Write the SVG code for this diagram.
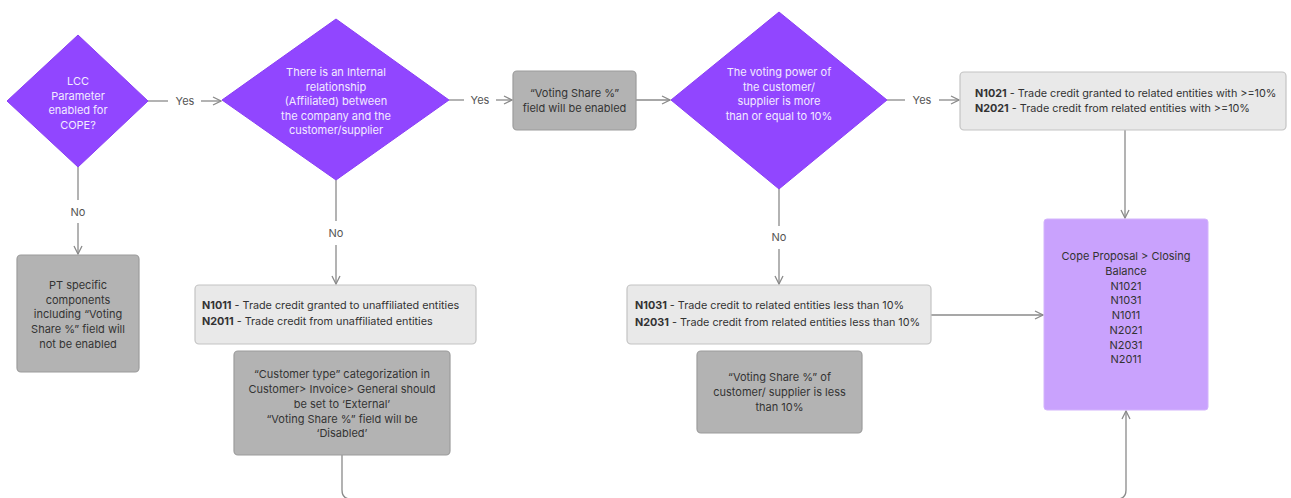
<svg xmlns="http://www.w3.org/2000/svg" width="1291" height="498" viewBox="0 0 1291 498">
<defs>
<marker id="arr" viewBox="0 0 10 10" refX="9" refY="5" markerWidth="10" markerHeight="10" markerUnits="userSpaceOnUse" orient="auto">
<path d="M1,1 L9,5 L1,9" fill="none" stroke="#8a8a8a" stroke-width="1.3"/>
</marker>
<style>
text{font-family:Inter,"Noto Sans","Liberation Sans",sans-serif;font-size:11px}
.dia{fill:#9146ff;stroke:#8a3ff5;stroke-width:1;stroke-linejoin:round}
.dt{fill:#f3eaff;text-anchor:middle}
.gray{fill:#b3b3b3;stroke:#9c9c9c;stroke-width:1.2}
.light{fill:#e9e9e9;stroke:#c3c3c3;stroke-width:1.2}
.cope{fill:#c9a2fd;stroke:#d3b4fc;stroke-width:1}
.bt{fill:#333;text-anchor:middle}
.lt{fill:#333;font-size:10.8px}
.lt tspan.b{font-weight:700}
.lbl{fill:#555;text-anchor:middle}
.c{fill:none;stroke:#8a8a8a;stroke-width:1.3}
</style>
</defs>

<g id="connectors">
<line class="c" x1="148" y1="101" x2="168" y2="101"/>
<line class="c" x1="201" y1="101" x2="221" y2="101" marker-end="url(#arr)"/>
<text class="lbl" x="185" y="105">Yes</text>
<line class="c" x1="449" y1="100" x2="464" y2="100"/>
<line class="c" x1="496" y1="100" x2="512" y2="100" marker-end="url(#arr)"/>
<text class="lbl" x="480" y="104">Yes</text>
<line class="c" x1="636" y1="100" x2="670" y2="100" marker-end="url(#arr)"/>
<line class="c" x1="887" y1="100" x2="905" y2="100"/>
<line class="c" x1="939" y1="100" x2="959" y2="100" marker-end="url(#arr)"/>
<text class="lbl" x="922" y="104">Yes</text>
<line class="c" x1="1125" y1="130" x2="1125" y2="218" marker-end="url(#arr)"/>
<line class="c" x1="78" y1="167" x2="78" y2="200"/>
<line class="c" x1="78" y1="223" x2="78" y2="254" marker-end="url(#arr)"/>
<text class="lbl" x="78" y="216">No</text>
<line class="c" x1="336" y1="180" x2="336" y2="221"/>
<line class="c" x1="336" y1="245" x2="336" y2="284" marker-end="url(#arr)"/>
<text class="lbl" x="336" y="237">No</text>
<line class="c" x1="779" y1="189" x2="779" y2="226"/>
<line class="c" x1="779" y1="249" x2="779" y2="284" marker-end="url(#arr)"/>
<text class="lbl" x="779" y="241">No</text>
<line class="c" x1="931" y1="315" x2="1043" y2="315" marker-end="url(#arr)"/>
<path class="c" d="M342,455 V490 Q342,499 351,499 H1117 Q1126,499 1126,490 V411" marker-end="url(#arr)"/>
</g>

<g id="d1">
<polygon class="dia" points="78,35 148,101 78,167 7,101"/>
<text class="dt"><tspan x="78" y="85">LCC</tspan><tspan x="78" y="99.5">Parameter</tspan><tspan x="78" y="114">enabled for</tspan><tspan x="78" y="128.5">COPE?</tspan></text>
</g>

<g id="d2">
<polygon class="dia" points="336,19 449,100 336,180 222,100"/>
<text class="dt"><tspan x="336" y="76">There is an Internal</tspan><tspan x="336" y="90.5">relationship</tspan><tspan x="336" y="105">(Affiliated) between</tspan><tspan x="336" y="119.5">the company and the</tspan><tspan x="336" y="134">customer/supplier</tspan></text>
</g>

<g id="b-enabled">
<rect class="gray" x="513" y="71" width="123" height="59" rx="4"/>
<text class="bt"><tspan x="574.5" y="97">“Voting Share %”</tspan><tspan x="574.5" y="112">field will  be enabled</tspan></text>
</g>

<g id="d3">
<polygon class="dia" points="779,12 887,100 779,189 671,100"/>
<text class="dt"><tspan x="779" y="76">The voting power of</tspan><tspan x="779" y="90.5">the customer/</tspan><tspan x="779" y="105">supplier is more</tspan><tspan x="779" y="119.5">than or equal to 10%</tspan></text>
</g>

<g id="b-n1021">
<rect class="light" x="960" y="72" width="326" height="58" rx="4"/>
<text class="lt"><tspan x="975" y="97"><tspan class="b">N1021</tspan> - Trade credit granted to related entities with &gt;=10%</tspan><tspan x="975" y="112"><tspan class="b">N2021</tspan> - Trade credit from related entities with &gt;=10%</tspan></text>
</g>

<g id="b-cope">
<rect class="cope" x="1044" y="219" width="164" height="191" rx="3"/>
<text class="bt"><tspan x="1126" y="260">Cope Proposal &gt; Closing</tspan><tspan x="1126" y="275">Balance</tspan><tspan x="1126" y="290">N1021</tspan><tspan x="1126" y="304">N1031</tspan><tspan x="1126" y="319">N1011</tspan><tspan x="1126" y="334">N2021</tspan><tspan x="1126" y="349">N2031</tspan><tspan x="1126" y="363">N2011</tspan></text>
</g>

<g id="b-pt">
<rect class="gray" x="17" y="255" width="122" height="117" rx="4"/>
<text class="bt"><tspan x="78" y="289">PT specific</tspan><tspan x="78" y="304">components</tspan><tspan x="78" y="318">including “Voting</tspan><tspan x="78" y="333">Share %” field will</tspan><tspan x="78" y="348">not be enabled</tspan></text>
</g>

<g id="b-n1011">
<rect class="light" x="195" y="285" width="281" height="59" rx="4"/>
<text class="lt"><tspan x="202" y="309"><tspan class="b">N1011</tspan> - Trade credit granted to unaffiliated entities</tspan><tspan x="202" y="325"><tspan class="b">N2011</tspan> - Trade credit from unaffiliated entities</tspan></text>
</g>

<g id="b-customer">
<rect class="gray" x="234" y="351" width="216" height="104" rx="4"/>
<text class="bt"><tspan x="342" y="378">“Customer type” categorization in</tspan><tspan x="342" y="393">Customer&gt; Invoice&gt; General should</tspan><tspan x="342" y="408">be set to ‘External’</tspan><tspan x="342" y="423">“Voting Share %” field will be</tspan><tspan x="342" y="437">‘Disabled’</tspan></text>
</g>

<g id="b-n1031">
<rect class="light" x="627" y="285" width="304" height="59" rx="4"/>
<text class="lt"><tspan x="635" y="309"><tspan class="b">N1031</tspan> - Trade credit to related entities less than 10%</tspan><tspan x="635" y="326"><tspan class="b">N2031</tspan> - Trade credit from related entities less than 10%</tspan></text>
</g>

<g id="b-less">
<rect class="gray" x="697" y="351" width="165" height="82" rx="4"/>
<text class="bt"><tspan x="779.5" y="381">“Voting Share %” of</tspan><tspan x="779.5" y="396">customer/ supplier is less</tspan><tspan x="779.5" y="411">than 10%</tspan></text>
</g>
</svg>
